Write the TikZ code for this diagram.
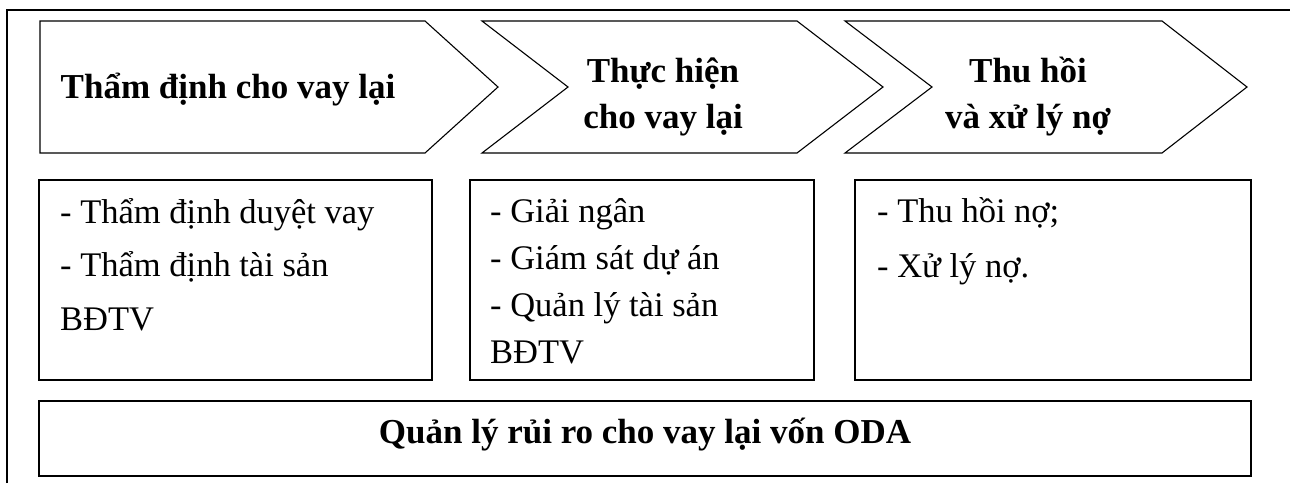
\documentclass[tikz,border=0pt]{standalone}
\usepackage{fontspec}
\setmainfont{Liberation Serif}
\begin{document}
\begin{tikzpicture}[x=1pt,y=-1pt,
  frameline/.style={line width=1.8pt},
  stage/.style={draw,line width=1.1pt,line join=miter},
  boxline/.style={draw,line width=1.3pt},
  stagetext/.style={font=\fontsize{35}{46}\selectfont\bfseries,align=center,anchor=base,inner sep=0pt},
  itemtext/.style={font=\fontsize{34.5}{#1}\selectfont,align=left,anchor=base west,inner sep=0pt},
  itemtext/.default=53
]
\useasboundingbox (0,0) rectangle (1290,483);

% outer frame (only its left and top sides fall inside the page)
\coordinate (fbl) at (7,483);
\coordinate (ftl) at (7,10);
\coordinate (ftr) at (1290,10);
\draw[frameline] (fbl) -- (ftl) -- (ftr);

% the three stage chevrons
\draw[stage] (40,21) -- (425,21) -- (498,87) -- (425,153) -- (40,153) -- cycle;
\draw[stage] (482,21) -- (797,21) -- (883,87) -- (797,153) -- (482,153) -- (568,87) -- cycle;
\draw[stage] (845,21) -- (1162,21) -- (1247,87) -- (1162,153) -- (845,153) -- (932,87) -- cycle;

% multi-line nodes are placed by the baseline of their last line
\node[stagetext] (s1) at (228,98) {Thẩm định cho vay lại};
\node[stagetext] (s2) at (663,128) {Thực hiện\\cho vay lại};
\node[stagetext] (s3) at (1028,128) {Thu hồi\\và xử lý nợ};

% task boxes under each stage
\draw[boxline] (39,180) rectangle (432,380);
\draw[boxline] (470,180) rectangle (814,380);
\draw[boxline] (855,180) rectangle (1251,380);

\node[itemtext=53.5] (t1) at (60,330) {- Thẩm định duyệt vay\\- Thẩm định tài sản\\BĐTV};
\node[itemtext=46.7] (t2) at (490,363) {- Giải ngân\\- Giám sát dự án\\- Quản lý tài sản\\BĐTV};
\node[itemtext=55] (t3) at (877,277) {- Thu hồi nợ;\\- Xử lý nợ.};

% common risk-management band
\draw[boxline] (39,401) rectangle (1251,476);
\node[stagetext] (risk) at (645,443) {Quản lý rủi ro cho vay lại vốn ODA};
\end{tikzpicture}
\end{document}
